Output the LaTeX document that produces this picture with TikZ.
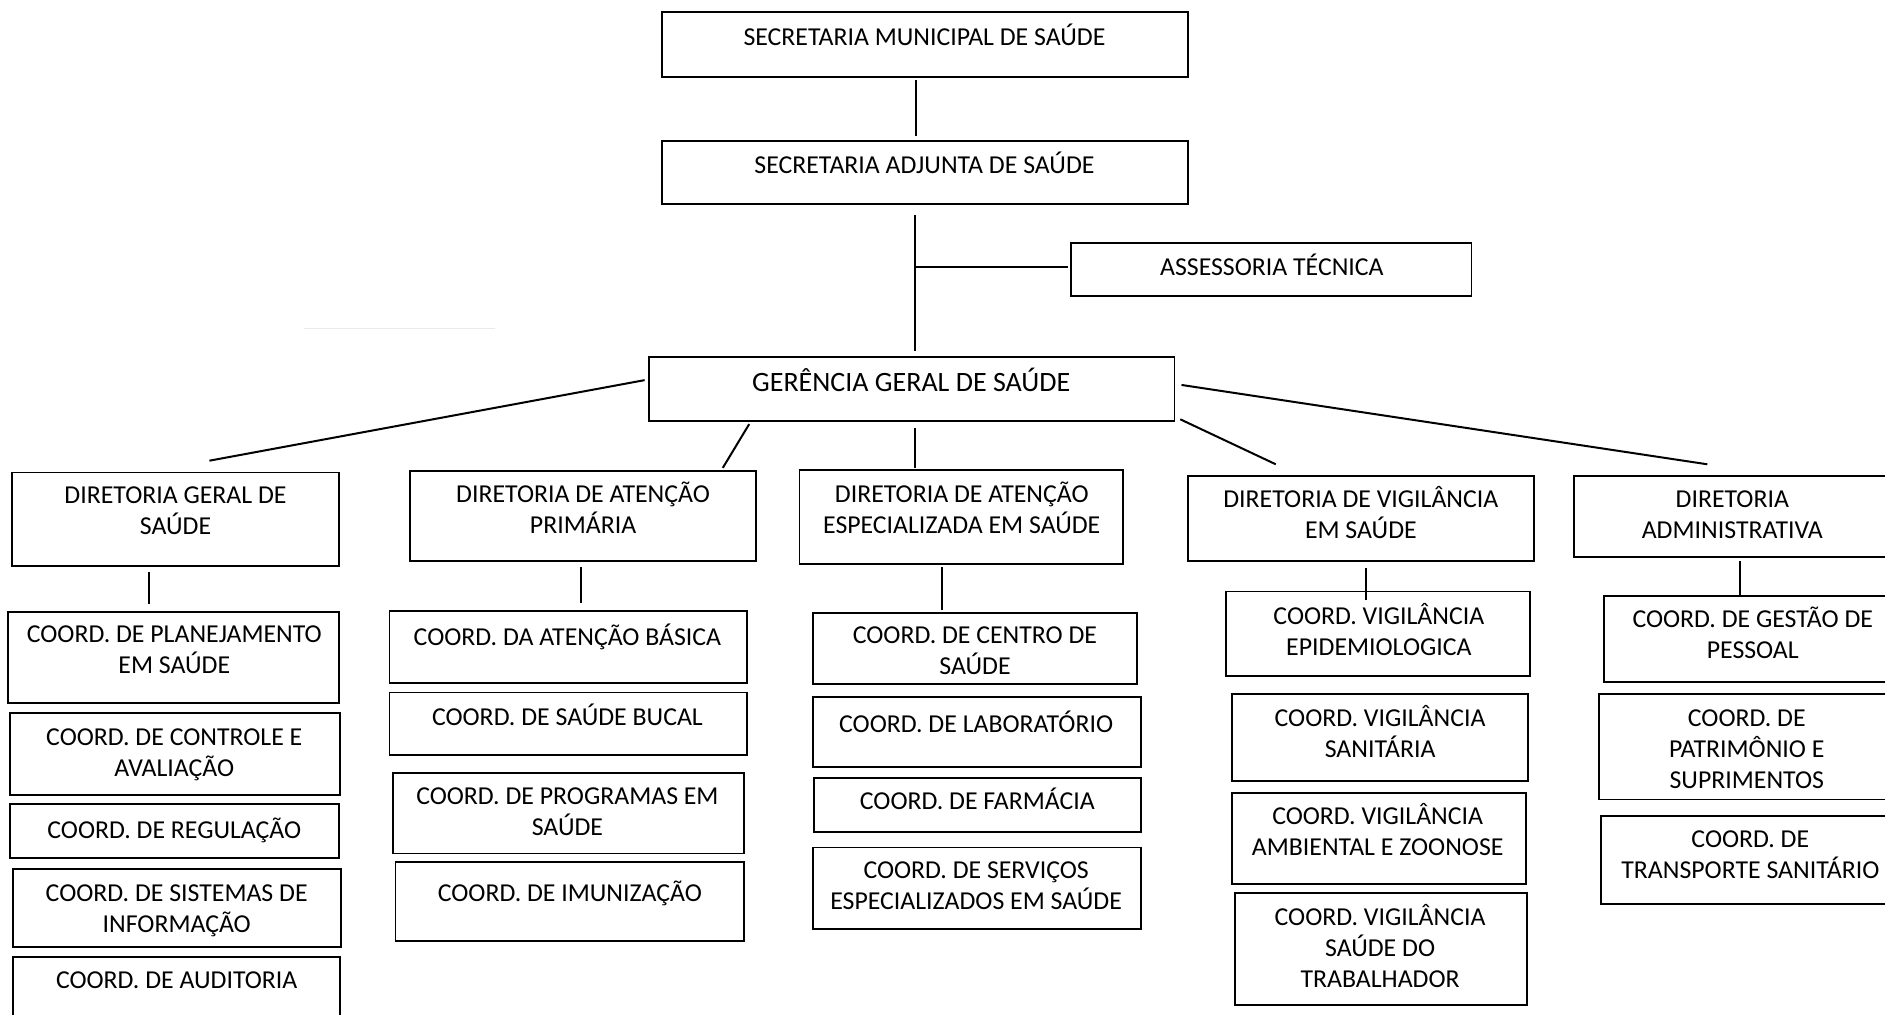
\documentclass[tikz,border=0pt]{standalone}
\usepackage{fontspec}
\setmainfont{Carlito}
\usetikzlibrary{fit}
\tikzset{
  box/.style={draw=black, line width=1.9pt, fill=white, inner sep=0pt},
  txt/.style={font=\fontsize{25.8}{31}\selectfont, align=center, inner sep=0pt, anchor=north, yshift=16.2pt},
  bigtxt/.style={font=\fontsize{28}{33}\selectfont, align=center, inner sep=0pt, anchor=north, yshift=17.6pt},
  link/.style={draw=black, line width=2pt}
}
\newcommand{\orgbx}[8]{%
  \node[box, fit={(#2,#3) (#4,#5)}] (#1) {};
  \node[txt] (#1-t) at (#6,#7) {\rule{0pt}{0.95em}#8};
}
\begin{document}
\begin{tikzpicture}[x=1.2022pt, y=-1.2022pt]
\useasboundingbox (0,0) rectangle (1568,844);
\clip (0,0) rectangle (1568,844);
\fill[white] (0,0) rectangle (1568,844);

% faint artifact
\draw[black!8, line width=1pt] (253,273) -- (412,273);

% top levels
\orgbx{top}{551}{10}{988}{64}{769}{31}{SECRETARIA MUNICIPAL DE SAÚDE}
\orgbx{adj}{551}{117}{988}{170}{769}{137}{SECRETARIA ADJUNTA DE SAÚDE}
\orgbx{ass}{891}{202}{1224}{246}{1058}{222}{ASSESSORIA TÉCNICA}
\node[box, fit={(540,297) (977,350)}] (ger) {};
\node[bigtxt] (ger-t) at (758,318) {\rule{0pt}{0.95em}GERÊNCIA GERAL DE SAÚDE};

% directorates
\orgbx{dgs}{10}{393}{282}{471}{146}{412}{DIRETORIA GERAL DE\\SAÚDE}
\orgbx{dap}{341}{392}{629}{467}{485}{411}{DIRETORIA DE ATENÇÃO\\PRIMÁRIA}
\orgbx{dae}{665}{391}{934}{469}{800}{411}{DIRETORIA DE ATENÇÃO\\ESPECIALIZADA EM SAÚDE}
\orgbx{dvs}{988}{396}{1276}{467}{1132}{415}{DIRETORIA DE VIGILÂNCIA\\EM SAÚDE}
\orgbx{da}{1309}{396}{1590}{463}{1441}{415}{DIRETORIA\\ADMINISTRATIVA}

% column 1
\orgbx{c11}{7}{509}{282}{585}{145}{527}{COORD. DE PLANEJAMENTO\\EM SAÚDE}
\orgbx{c12}{8}{593}{283}{661}{145}{613}{COORD. DE CONTROLE E\\AVALIAÇÃO}
\orgbx{c13}{8}{669}{282}{714}{145}{690}{COORD. DE REGULAÇÃO}
\orgbx{c14}{11}{723}{284}{788}{147}{743}{COORD. DE SISTEMAS DE\\INFORMAÇÃO}
\orgbx{c15}{11}{796}{283}{860}{147}{815}{COORD. DE AUDITORIA}

% column 2
\orgbx{c21}{324}{508}{621}{568}{472}{530}{COORD. DA ATENÇÃO BÁSICA}
\orgbx{c22}{324}{576}{621}{628}{472}{596}{COORD. DE SAÚDE BUCAL}
\orgbx{c23}{327}{643}{619}{710}{472}{662}{COORD. DE PROGRAMAS EM\\SAÚDE}
\orgbx{c24}{329}{717}{619}{783}{474}{743}{COORD. DE IMUNIZAÇÃO}

% column 3
\orgbx{c31}{676}{510}{946}{569}{811}{528}{COORD. DE CENTRO DE\\SAÚDE}
\orgbx{c32}{676}{580}{949}{638}{812}{602}{COORD. DE LABORATÓRIO}
\orgbx{c33}{677}{647}{949}{692}{813}{666}{COORD. DE FARMÁCIA}
\orgbx{c34}{676}{705}{949}{773}{812}{724}{COORD. DE SERVIÇOS\\ESPECIALIZADOS EM SAÚDE}

% column 4
\orgbx{c41}{1020}{492}{1273}{562}{1147}{512}{COORD. VIGILÂNCIA\\EPIDEMIOLOGICA}
\orgbx{c42}{1025}{577}{1271}{650}{1148}{597}{COORD. VIGILÂNCIA\\SANITÁRIA}
\orgbx{c43}{1025}{660}{1269}{735}{1146}{679}{COORD. VIGILÂNCIA\\AMBIENTAL E ZOONOSE}
\orgbx{c44}{1027}{743}{1270}{836}{1148}{763}{COORD. VIGILÂNCIA\\SAÚDE DO\\TRABALHADOR}

% column 5
\orgbx{c51}{1334}{496}{1590}{567}{1458}{515}{COORD. DE GESTÃO DE\\PESSOAL}
\orgbx{c52}{1330}{577}{1590}{665}{1453}{597}{COORD. DE\\PATRIMÔNIO E\\SUPRIMENTOS}
\orgbx{c53}{1332}{679}{1590}{752}{1456}{698}{COORD. DE\\TRANSPORTE SANITÁRIO}

% connectors
\draw[link] ([shift={(212,2)}]top.south west) -- ([shift={(212,-3)}]adj.north west);
\draw[link] ([shift={(211,8)}]adj.south west) -- ([shift={(222,-4)}]ger.north west);
\coordinate (br) at (762,222);
\draw[link] (br) -- ([shift={(-2,-2)}]ass.west);
\draw[link] ([shift={(-3,20)}]ger.north west) -- ([shift={(165,-9)}]dgs.north west);
\draw[link] ([shift={(84,2)}]ger.south west) -- ([shift={(261,-2)}]dap.north west);
\draw[link] ([shift={(222,5)}]ger.south west) -- ([shift={(97,-1)}]dae.north west);
\draw[link] ([shift={(4,-2)}]ger.south east) -- ([shift={(74,-9)}]dvs.north west);
\draw[link] ([shift={(5,24)}]ger.north east) -- ([shift={(112,-9)}]da.north west);
\draw[link] ([shift={(115,4)}]dgs.south west) -- ([shift={(118,-6)}]c11.north west);
\draw[link] ([shift={(143,4)}]dap.south west) -- ([shift={(160,-6)}]c21.north west);
\draw[link] ([shift={(119,2)}]dae.south west) -- ([shift={(108,-2)}]c31.north west);
\draw[link] ([shift={(149,5)}]dvs.south west) -- ([shift={(117,8)}]c41.north west);
\draw[link] ([shift={(139,3)}]da.south west) -- ([shift={(114,0)}]c51.north west);
\end{tikzpicture}
\end{document}
